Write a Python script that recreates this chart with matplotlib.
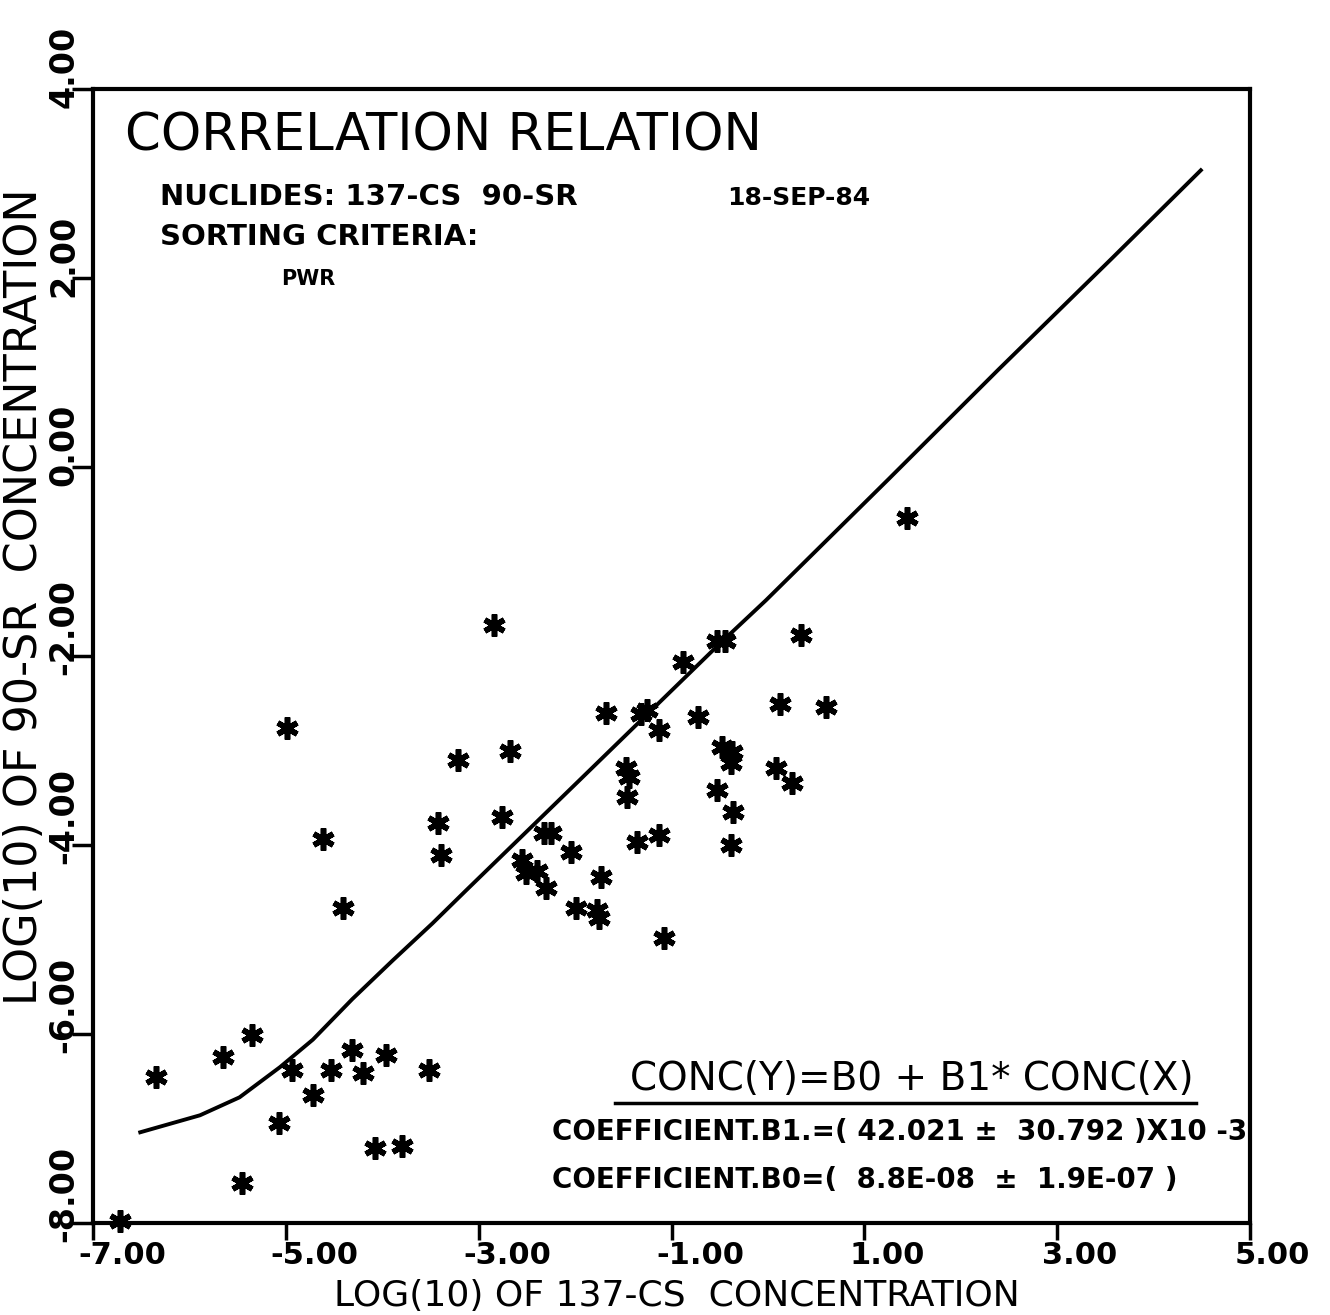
import matplotlib
matplotlib.use('Agg')
import matplotlib.pyplot as plt
import matplotlib.transforms as mtransforms

plt.rcParams['font.family'] = ['DejaVu Sans']

# measured points, log10 of 137-CS (x) and 90-SR (y) concentration
cs_log = [-6.72, -6.35, -5.65, -5.35, -5.45, -5.07, -4.94, -4.72, -4.53, -4.31,
          -4.20, -3.96, -4.08, -3.80, -3.51, -4.99, -4.61, -4.41, -3.42, -3.39,
          -3.21, -2.84, -2.68, -2.76, -2.55, -2.51, -2.39, -2.30, -2.32, -2.25,
          -2.04, -1.99, -1.77, -1.75, -1.73, -1.68, -1.47, -1.44, -1.46, -1.36,
          -1.32, -1.25, -1.13, -1.13, -1.08, -0.88, -0.73, -0.53, -0.53, -0.44,
          -0.48, -0.37, -0.38, -0.36, -0.38, 0.08, 0.13, 0.25, 0.34, 0.60, 1.44]
sr_log = [-7.98, -6.46, -6.24, -6.01, -7.58, -6.94, -6.38, -6.65, -6.38, -6.17,
          -6.41, -6.22, -7.21, -7.18, -6.38, -2.76, -3.94, -4.67, -3.77, -4.11,
          -3.10, -1.67, -3.00, -3.70, -4.16, -4.30, -4.27, -4.46, -3.87, -3.87,
          -4.07, -4.67, -4.69, -4.77, -4.34, -2.60, -3.18, -3.28, -3.49, -3.97,
          -2.61, -2.57, -2.78, -3.89, -4.98, -2.06, -2.65, -3.42, -1.84, -1.84,
          -2.96, -3.02, -3.13, -3.65, -4.00, -3.19, -2.51, -3.34, -1.78, -2.54, -0.54]

# fitted relation
fit_x = [-6.51, -5.89, -5.48, -5.06, -4.72, -4.31, -3.89, -3.48, -3.13, -1.96,
         -0.49, -0.02, 1.25, 2.39, 3.56, 4.49]
fit_y = [-7.04, -6.86, -6.67, -6.35, -6.06, -5.63, -5.22, -4.83, -4.48, -3.32,
         -1.86, -1.41, -0.13, 1.03, 2.20, 3.14]

x_ticks = [-7, -5, -3, -1, 1, 3, 5]
y_ticks = [-8, -6, -4, -2, 0, 2, 4]

fig = plt.figure(figsize=(13.3, 13.15), dpi=100)
ax = fig.add_axes([93 / 1330, 1 - 1223 / 1315, 1157 / 1330, 1134 / 1315])

ax.plot(fit_x, fit_y, color='black', lw=2.8)
ax.plot(cs_log, sr_log, ls='none', marker=(6, 2, 0), ms=16, mew=4,
        color='black', clip_on=False)

ax.set_xlim(-7, 5)
ax.set_ylim(-8, 4)
for s in ax.spines.values():
    s.set_linewidth(3)

ax.set_xticks(x_ticks)
ax.set_yticks(y_ticks)
ax.set_xticklabels(['%.2f' % v for v in x_ticks])
ax.set_yticklabels(['%.2f' % v for v in y_ticks])
ax.tick_params(axis='x', direction='out', length=12, width=2.5, pad=1,
               labelsize=22)
ax.tick_params(axis='y', direction='out', length=15, width=2.5, pad=6,
               labelsize=24, labelrotation=90)

dx = mtransforms.ScaledTranslation(-0.15, 0, fig.dpi_scale_trans)
for lbl in ax.get_xticklabels():
    lbl.set_ha('left')
    lbl.set_fontweight('bold')
    lbl.set_transform(lbl.get_transform() + dx)
dy = mtransforms.ScaledTranslation(0, -0.19, fig.dpi_scale_trans)
for lbl in ax.get_yticklabels():
    lbl.set_ha('center')
    lbl.set_va('bottom')
    lbl.set_fontweight('bold')
    lbl.set_transform(lbl.get_transform() + dy)

ax.set_xlabel('LOG(10) OF 137-CS  CONCENTRATION', fontsize=26)
ax.set_ylabel('LOG(10) OF 90-SR  CONCENTRATION', fontsize=32)
ax.xaxis.set_label_coords(0.505, -0.0645)
ax.xaxis.label.set_va('center')
ax.yaxis.set_label_coords(-0.059, 0.552)
ax.yaxis.label.set_va('center')

# header text
ax.text(0.028, 0.946, 'CORRELATION RELATION', transform=ax.transAxes,
        fontsize=37, va='baseline')
ax.text(0.058, 0.898, 'NUCLIDES: 137-CS  90-SR', transform=ax.transAxes,
        fontsize=21, fontweight='bold', va='baseline')
ax.text(0.548, 0.898, '18-SEP-84', transform=ax.transAxes,
        fontsize=18, fontweight='bold', va='baseline')
ax.text(0.058, 0.862, 'SORTING CRITERIA:', transform=ax.transAxes,
        fontsize=21, fontweight='bold', va='baseline')
ax.text(0.163, 0.827, 'PWR', transform=ax.transAxes,
        fontsize=15, fontweight='bold', va='baseline')

# regression text
ax.text(0.464, 0.117, 'CONC(Y)=B0 + B1* CONC(X)', transform=ax.transAxes,
        fontsize=28, va='baseline')
ax.plot([0.451, 0.953], [0.106, 0.106], transform=ax.transAxes,
        color='black', lw=2.5)
ax.text(0.397, 0.073, 'COEFFICIENT.B1.=( 42.021 \u00b1  30.792 )X10 -3',
        transform=ax.transAxes, fontsize=20, fontweight='bold', va='baseline')
ax.text(0.397, 0.031, 'COEFFICIENT.B0=(  8.8E-08  \u00b1  1.9E-07 )',
        transform=ax.transAxes, fontsize=20, fontweight='bold', va='baseline')

fig.savefig('out.png', dpi=100)
